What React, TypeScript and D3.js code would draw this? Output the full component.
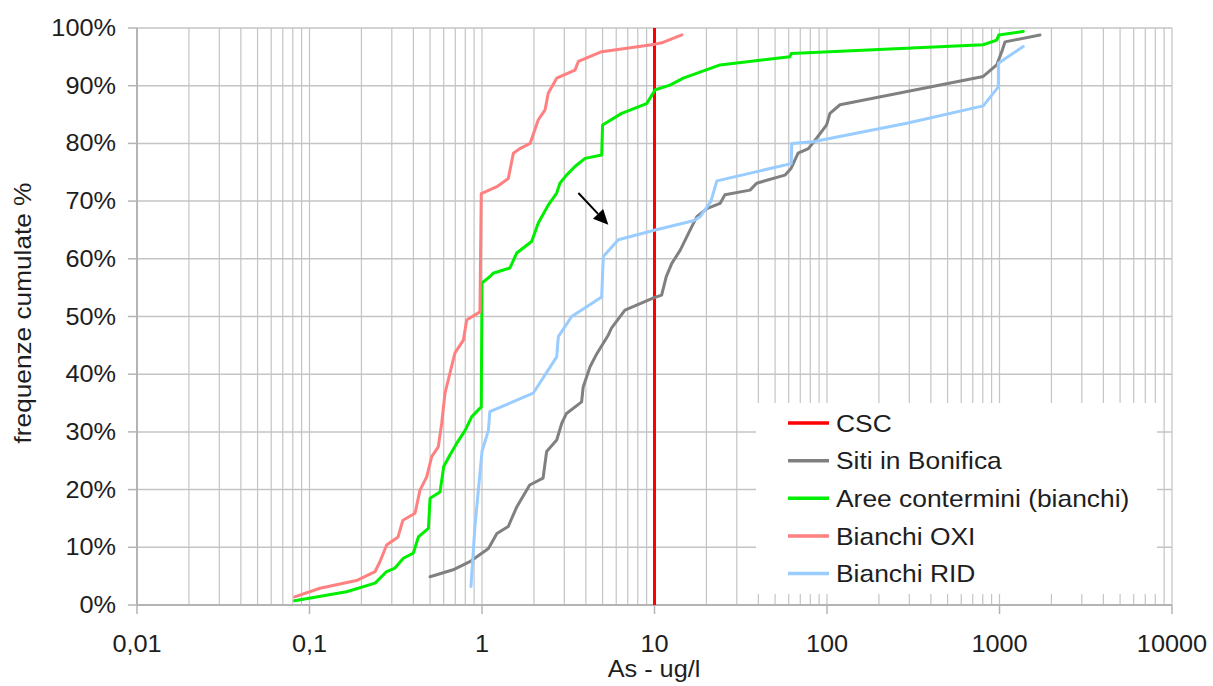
import React, { useLayoutEffect } from "react";
import * as d3 from "d3";

type Pt = [number, number];

// x tick labels (log axis) and y tick values
const xTickValues = [0.01, 0.1, 1, 10, 100, 1000, 10000];
const xTickLabels = ["0,01", "0,1", "1", "10", "100", "1000", "10000"];
const yTickValues = [0, 10, 20, 30, 40, 50, 60, 70, 80, 90, 100];

// CSC threshold (ug/l)
const cscValue = 10;

// Series: [As ug/l, cumulative frequency %]
const sitiBonifica: Pt[] = [
  [0.5, 4.9], [0.68, 6.1], [0.85, 7.5], [1.09, 9.8], [1.22, 12.4], [1.42, 13.6],
  [1.59, 17.0], [1.89, 20.8], [2.26, 22.0], [2.37, 26.6], [2.71, 28.6], [2.9, 31.5],
  [3.09, 33.2], [3.78, 35.2], [3.86, 37.8], [4.23, 41.3], [4.64, 43.6], [5.4, 46.8],
  [5.63, 48.0], [6.74, 51.1], [9.8, 53.2], [11.0, 53.7], [11.7, 56.9], [12.6, 59.2],
  [14.1, 61.5], [16.1, 65.0], [17.6, 67.3], [20.1, 68.7], [24, 69.6], [25.6, 71.1],
  [35.8, 71.9], [39.1, 73.1], [57, 74.5], [62, 75.7], [68, 78.3], [78, 79.1],
  [87, 80.9], [99.5, 83.2], [104, 85.2], [119, 86.7], [805, 91.6], [963, 93.6],
  [1031, 95.9], [1077, 97.6], [1718, 98.8],
];

const areeContermini: Pt[] = [
  [0.082, 0.75], [0.164, 2.3], [0.24, 3.8], [0.28, 5.8], [0.313, 6.4], [0.35, 8.1],
  [0.4, 9.0], [0.428, 11.8], [0.489, 13.3], [0.5, 18.5], [0.571, 19.6], [0.6, 24.0],
  [0.652, 26.0], [0.713, 28.0], [0.8, 30.3], [0.871, 32.6], [0.958, 33.9], [0.99, 34.3],
  [1.0, 55.8], [1.11, 56.9], [1.16, 57.5], [1.45, 58.4], [1.59, 61.0], [1.94, 63.0],
  [2.12, 66.2], [2.42, 69.3], [2.71, 71.4], [2.83, 73.1], [3.09, 74.5], [3.46, 76.0],
  [3.96, 77.4], [4.94, 78.0], [5.0, 83.2], [6.45, 85.2], [9.0, 86.9], [10.1, 89.3],
  [12.3, 90.1], [14.7, 91.3], [24, 93.6], [61, 95.0], [62, 95.6], [805, 97.1],
  [964, 97.9], [990, 98.8], [1374, 99.4],
];

const bianchiOxi: Pt[] = [
  [0.082, 1.4], [0.115, 2.9], [0.19, 4.3], [0.24, 5.8], [0.256, 7.5], [0.28, 10.4],
  [0.326, 11.8], [0.348, 14.7], [0.409, 15.9], [0.437, 19.9], [0.478, 22.2], [0.511, 25.7],
  [0.558, 27.4], [0.584, 31.5], [0.61, 36.7], [0.652, 40.2], [0.697, 43.7], [0.78, 45.9],
  [0.815, 49.4], [0.973, 50.8], [0.99, 71.3], [1.22, 72.5], [1.42, 73.9], [1.52, 78.3],
  [1.66, 79.1], [1.9, 80.0], [2.12, 84.1], [2.32, 85.8], [2.42, 88.7], [2.71, 91.3],
  [3.46, 92.7], [3.62, 94.2], [4.94, 95.9], [6.9, 96.5], [10.1, 97.2], [11.2, 97.5],
  [14.4, 98.8],
];

const bianchiRid: Pt[] = [
  [0.863, 3.2], [0.91, 13.6], [1.0, 26.6], [1.09, 30.3], [1.11, 33.5], [1.98, 36.7],
  [2.71, 43.0], [2.77, 46.5], [3.31, 50.0], [4.94, 53.4], [5.05, 60.4], [6.17, 63.3],
  [10.1, 65.0], [16.8, 66.6], [18.4, 67.3], [21.2, 69.9], [23, 73.5], [62, 76.5],
  [62.5, 80.0], [83, 80.3], [290, 83.5], [805, 86.5], [985, 89.8], [985, 93.9],
  [1374, 96.8],
];

// Arrow annotation: [from, to] in data coordinates
const arrowPts: Pt[] = [[3.62, 71.4], [5.4, 65.9]];

const legendNames = ["CSC", "Siti in Bonifica", "Aree contermini (bianchi)", "Bianchi OXI", "Bianchi RID"];
const legendColors = ["#ff0000", "#808080", "#00ee00", "#ff8080", "#99ccff"];
const seriesList: Pt[][] = [sitiBonifica, areeContermini, bianchiOxi, bianchiRid];
const seriesColors = ["#808080", "#00ee00", "#ff8080", "#99ccff"];

const FONT = "'Liberation Sans', Arial, sans-serif";
const SX = 1.1; // horizontal text stretch seen in the reference

function T(props: {
  x: number;
  y: number;
  anchor?: "start" | "middle" | "end";
  size: number;
  dy?: string;
  rotate?: number;
  stretch?: number;
  children: React.ReactNode;
}) {
  const { x, y, anchor = "start", size, dy, rotate = 0, stretch = SX, children } = props;
  return (
    <text
      transform={`translate(${x},${y}) rotate(${rotate}) scale(${stretch},1)`}
      textAnchor={anchor}
      fontSize={size}
      dy={dy}
      fill="#1e1e1e"
    >
      {children}
    </text>
  );
}

export default function App() {
  useLayoutEffect(() => {
    document.body.style.margin = "0";
  }, []);

  const W = 1213;
  const H = 686;
  const x = d3.scaleLog().domain([0.01, 10000]).range([137, 1172]);
  const y = d3.scaleLinear().domain([0, 100]).range([605, 28]);

  const gridX: number[] = [];
  for (let k = -2; k <= 3; k++) {
    for (let m = 1; m <= 9; m++) gridX.push(m * Math.pow(10, k));
  }
  gridX.push(10000);

  const line = d3
    .line<Pt>()
    .x((d) => x(d[0]))
    .y((d) => y(d[1]));

  const [a0, a1] = arrowPts;
  const ax0 = x(a0[0]), ay0 = y(a0[1]), ax1 = x(a1[0]), ay1 = y(a1[1]);
  const ang = Math.atan2(ay1 - ay0, ax1 - ax0);
  const headLen = 15, headW = 7;
  const bx = ax1 - headLen * Math.cos(ang), by = ay1 - headLen * Math.sin(ang);
  const px = -Math.sin(ang), py = Math.cos(ang);

  const legX = 756, legY = 403, legW = 401, legH = 191;
  const rowY = d3.scaleLinear().domain([0, 4]).range([423, 573.5]);

  return (
    <svg width={W} height={H} style={{ display: "block", background: "#fff" }} fontFamily={FONT}>
      <rect x={0} y={0} width={W} height={H} fill="#fff" />
      {/* vertical grid */}
      {gridX.map((v, i) => (
        <line key={"gx" + i} x1={x(v)} x2={x(v)} y1={y(0)} y2={y(100)} stroke="#c4c4c4" strokeWidth={1.2} />
      ))}
      {/* horizontal grid */}
      {yTickValues.map((v) => (
        <line key={"gy" + v} x1={x(0.01)} x2={x(10000)} y1={y(v)} y2={y(v)} stroke="#c4c4c4" strokeWidth={1.5} />
      ))}
      {/* axes */}
      <line x1={x(0.01)} x2={x(0.01)} y1={y(0)} y2={y(100)} stroke="#b4b4b4" strokeWidth={2} />
      <line x1={x(0.01)} x2={x(10000)} y1={y(0)} y2={y(0)} stroke="#b4b4b4" strokeWidth={2} />
      {yTickValues.map((v) => (
        <line key={"ty" + v} x1={x(0.01) - 9} x2={x(0.01)} y1={y(v)} y2={y(v)} stroke="#b4b4b4" strokeWidth={1.5} />
      ))}
      {xTickValues.map((v) => (
        <line key={"tx" + v} x1={x(v)} x2={x(v)} y1={y(0)} y2={y(0) + 9} stroke="#b4b4b4" strokeWidth={1.5} />
      ))}
      {/* tick labels */}
      {yTickValues.map((v) => (
        <T key={"ly" + v} x={116} y={y(v)} dy="0.35em" anchor="end" size={23}>
          {v + "%"}
        </T>
      ))}
      {xTickValues.map((v, i) => (
        <T key={"lx" + v} x={x(v)} y={652} anchor="middle" size={23}>
          {xTickLabels[i]}
        </T>
      ))}
      <T x={654} y={677} anchor="middle" size={23}>
        As - ug/l
      </T>
      <T x={31} y={313} anchor="middle" size={23} rotate={-90} stretch={1.14}>
        frequenze cumulate %
      </T>

      {/* CSC line */}
      <line x1={x(cscValue)} x2={x(cscValue)} y1={y(0)} y2={y(100)} stroke="#ff0000" strokeWidth={3} />

      {/* series */}
      {seriesList.map((s, i) => (
        <path key={"s" + i} d={line(s) || ""} fill="none" stroke={seriesColors[i]} strokeWidth={3} strokeLinejoin="round" strokeLinecap="round" />
      ))}

      {/* arrow */}
      <line x1={ax0} y1={ay0} x2={bx} y2={by} stroke="#000" strokeWidth={2} />
      <polygon
        points={`${ax1},${ay1} ${bx + px * headW},${by + py * headW} ${bx - px * headW},${by - py * headW}`}
        fill="#000"
      />

      {/* legend */}
      <rect x={legX} y={legY} width={legW} height={legH} fill="#fff" />
      {legendNames.map((n, i) => (
        <g key={"lg" + i}>
          <line x1={788} x2={829} y1={rowY(i)} y2={rowY(i)} stroke={legendColors[i]} strokeWidth={3.5} />
          <T x={836} y={rowY(i)} dy="0.36em" size={24}>
            {n}
          </T>
        </g>
      ))}
    </svg>
  );
}
